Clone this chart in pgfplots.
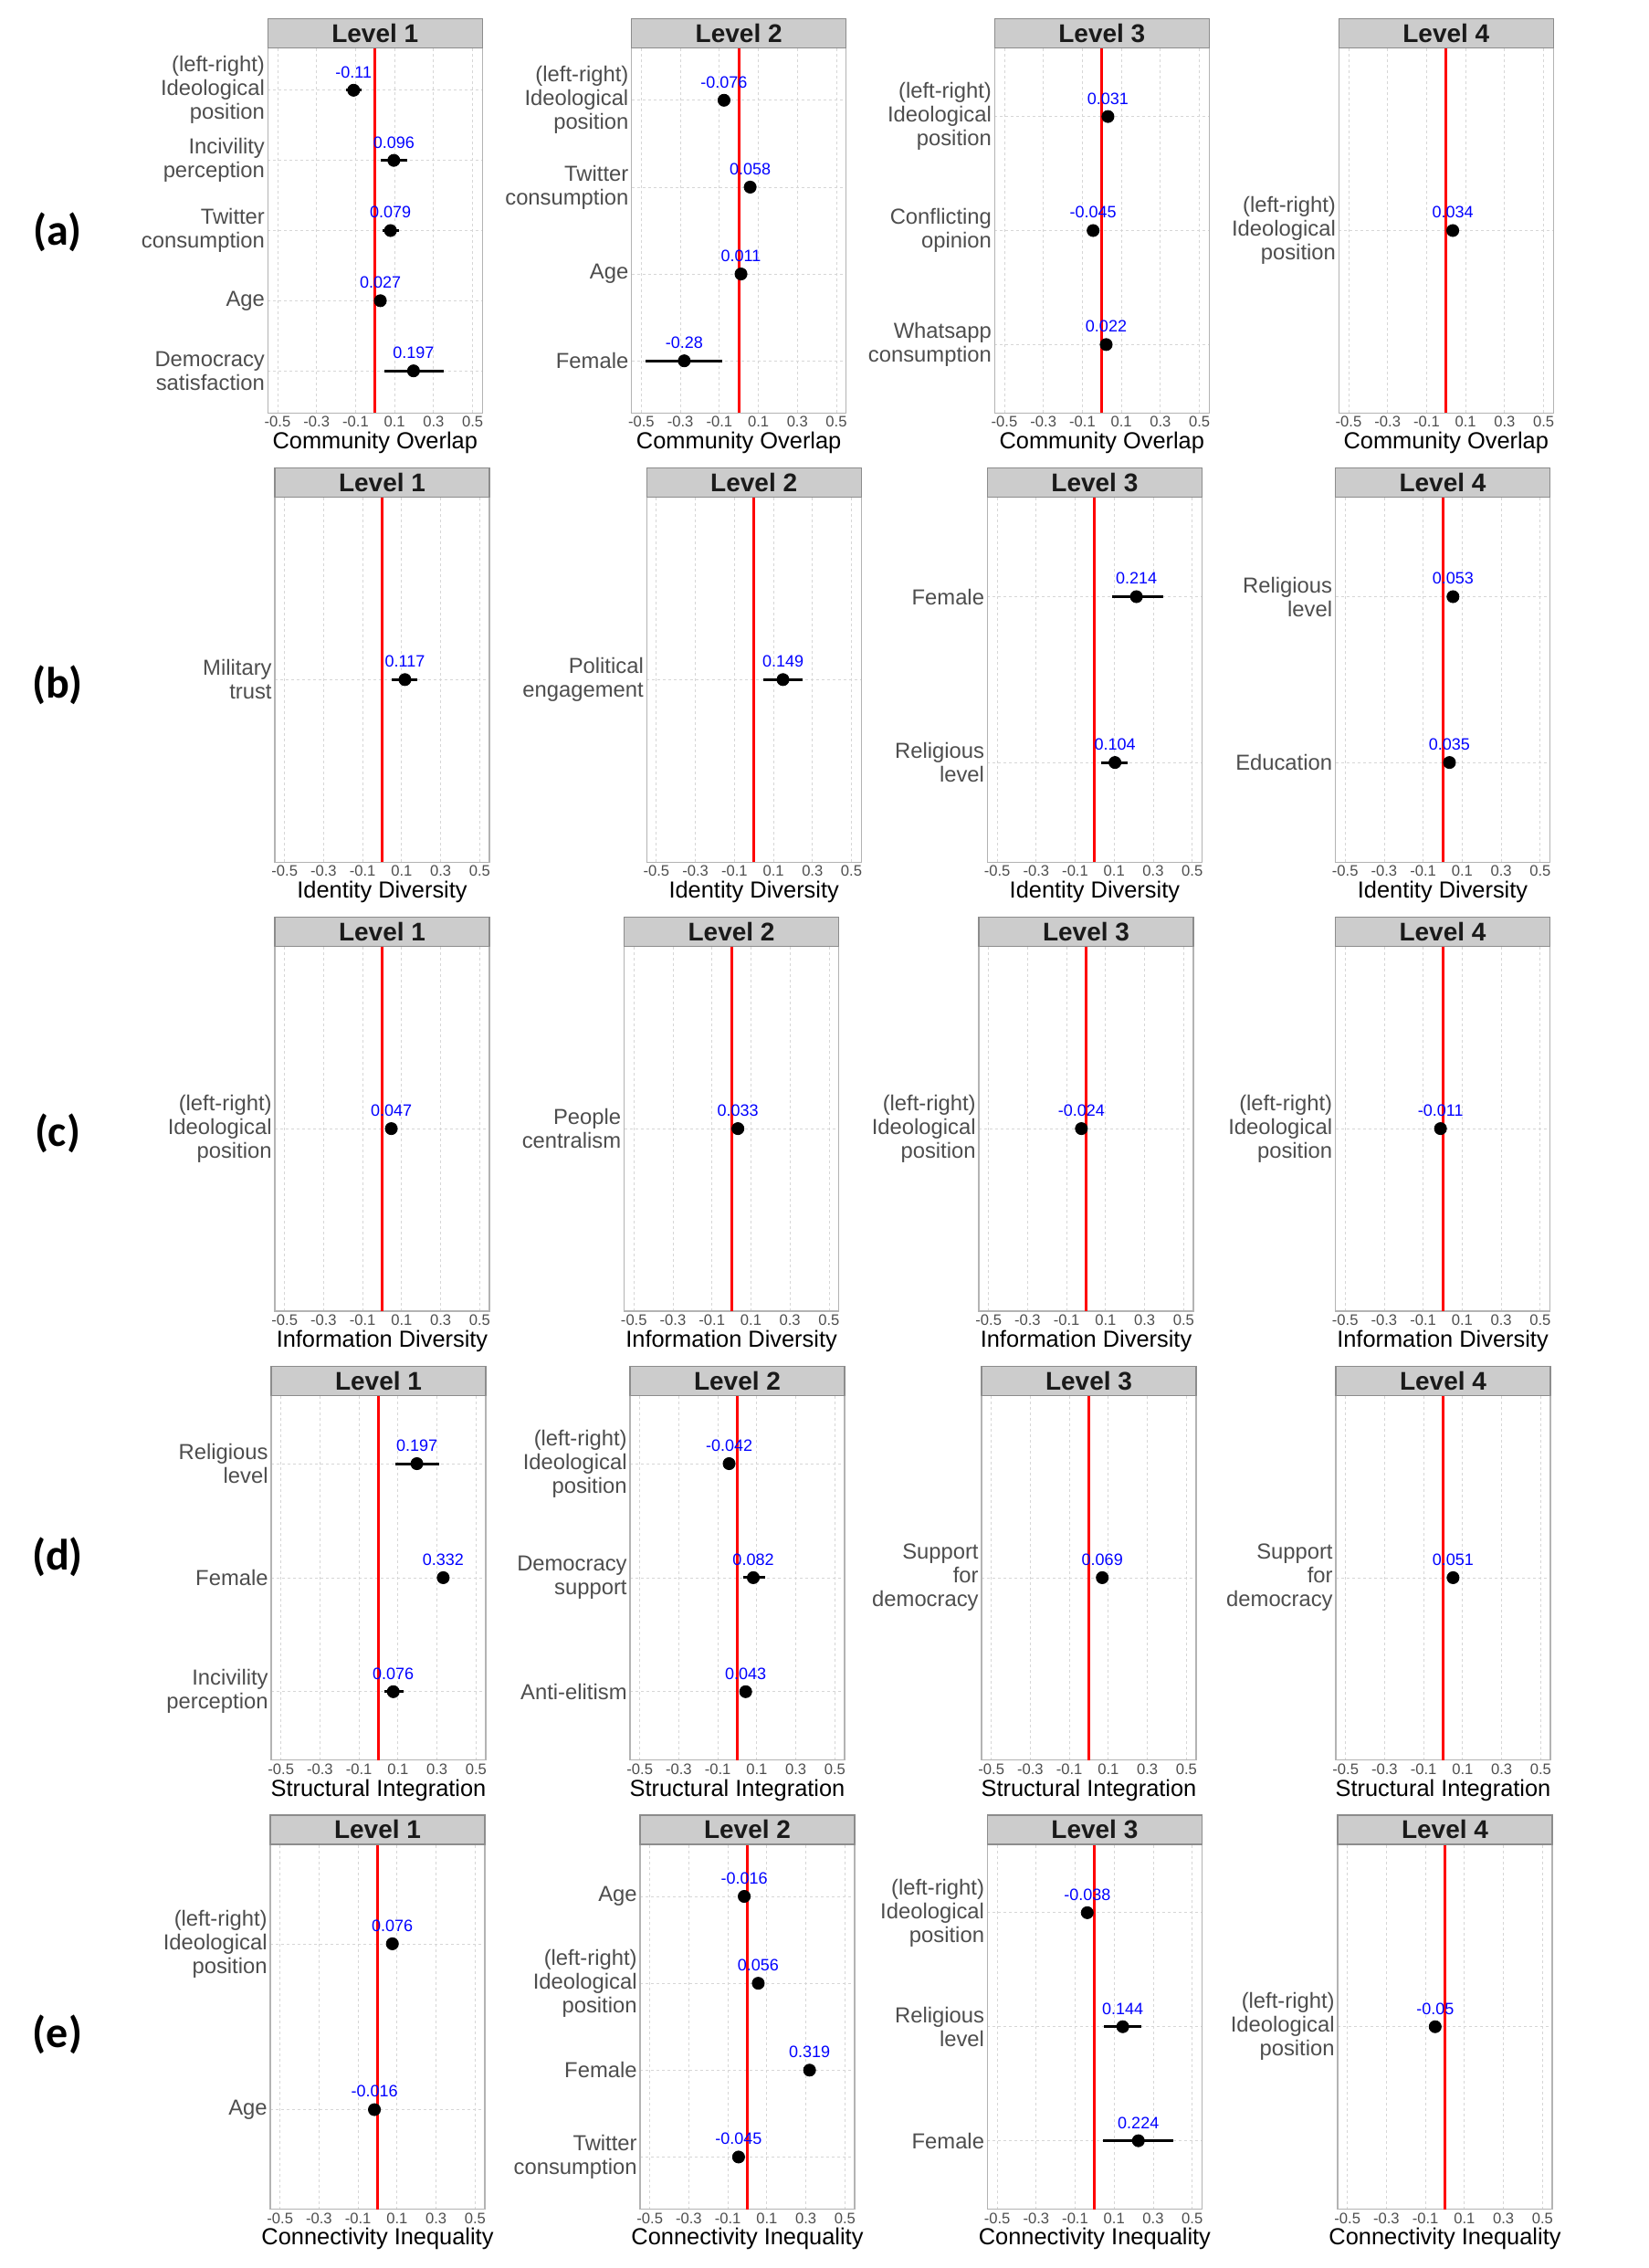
\documentclass[border=0pt]{standalone}
\usepackage{fontspec}
\setmainfont{Liberation Sans}
\newfontfamily\carlito{Carlito}
\usepackage{pgfplots}
\pgfplotsset{compat=1.18}
\definecolor{tickc}{HTML}{4D4D4D}
\definecolor{gridc}{HTML}{D6D6D6}
\definecolor{panelborder}{HTML}{B3B3B3}
\definecolor{stripfill}{HTML}{CCCCCC}
\definecolor{stripborder}{HTML}{8C8C8C}
\definecolor{striptext}{HTML}{1A1A1A}
\pgfplotsset{
 panel/.style={
  scale only axis, width=117.5pt, height=199.8pt, anchor=south west,
  xmin=-0.55, xmax=0.55, ymin=0.4,
  xtick={-0.5,-0.3,-0.1,0.1,0.3,0.5},
  xticklabels={-0.5,-0.3,-0.1,0.1,0.3,0.5},
  major tick length=0pt,
  xmajorgrids, ymajorgrids,
  grid style={dash pattern=on 1.5pt off 1.5pt, line width=0.4pt, draw=gridc},
  axis line style={draw=panelborder, line width=0.6pt},
  xticklabel style={font=\fontsize{8.3}{9}\selectfont, text=tickc, inner sep=0pt, yshift=-1.8pt},
  yticklabel style={font=\fontsize{11.9}{13}\selectfont, text=tickc, align=right, inner sep=0pt, xshift=-1.5pt},
  xlabel style={font=\fontsize{12.7}{14}\selectfont, text=black, at={(axis description cs:0.5,0)}, anchor=base, yshift=-19.7pt, inner sep=0pt},
 },
 zline/.style={red, line width=1.5pt},
 est/.style={only marks, mark=*, mark size=3.3pt, mark options={fill=black, draw=black}, black,
  point meta=explicit symbolic, nodes near coords={\pgfplotspointmeta},
  every node near coord/.append style={font=\fontsize{9}{10}\selectfont, text=blue, inner sep=0pt, yshift=6.5pt, anchor=south},
  error bars/.cd, x dir=both, x explicit, error mark=none, error bar style={line width=1.5pt, black}},
}
\newcommand{\strip}[2]{%
  \draw[fill=stripfill, draw=stripborder, line width=0.6pt] (#1.north west) rectangle ([yshift=16pt]#1.north east);
  \node[anchor=base, font=\fontsize{14}{16}\selectfont\bfseries, text=striptext, inner sep=0pt] at ([yshift=3pt]#1.north) {#2};}
\newcommand{\rowlab}[2]{\node[font=\carlito\bfseries\fontsize{24}{27}\selectfont, anchor=center] at (31.5pt,#1) {#2};}
\begin{document}
\begin{tikzpicture}
\useasboundingbox (0,0) rectangle (902.5pt,-1242pt);
% ===================== Row (a) =====================
\rowlab{-127pt}{(a)}
\begin{axis}[panel, name=a1, at={(146.65pt,-226.15pt)}, ymax=5.6, ytick={1,2,3,4,5},
 yticklabels={{Democracy\\satisfaction},Age,{Twitter\\consumption},{Incivility\\perception},{(left-right)\\Ideological\\position}},
 xlabel={Community Overlap}]
\addplot[zline] coordinates {(0,0.4) (0,5.6)};
\addplot[est] table[x=est,y=y,meta=lab,x error plus expr=\thisrow{hi}-\thisrow{est},x error minus expr=\thisrow{est}-\thisrow{lo}] {
y est lo hi lab
5 -0.11 -0.15 -0.07 -0.11
4 0.096 0.03 0.165 0.096
3 0.079 0.037 0.125 0.079
2 0.027 0.027 0.027 0.027
1 0.197 0.047 0.353 0.197
};
\end{axis}
\strip{a1}{Level 1}
\begin{axis}[panel, name=a2, at={(345.85pt,-226.15pt)}, ymax=4.6, ytick={1,2,3,4},
 yticklabels={Female,Age,{Twitter\\consumption},{(left-right)\\Ideological\\position}},
 xlabel={Community Overlap}]
\addplot[zline] coordinates {(0,0.4) (0,4.6)};
\addplot[est] table[x=est,y=y,meta=lab,x error plus expr=\thisrow{hi}-\thisrow{est},x error minus expr=\thisrow{est}-\thisrow{lo}] {
y est lo hi lab
4 -0.076 -0.076 -0.076 -0.076
3 0.058 0.058 0.058 0.058
2 0.011 0.011 0.011 0.011
1 -0.28 -0.477 -0.087 -0.28
};
\end{axis}
\strip{a2}{Level 2}
\begin{axis}[panel, name=a3, at={(544.65pt,-226.15pt)}, ymax=3.6, ytick={1,2,3},
 yticklabels={{Whatsapp\\consumption},{Conflicting\\opinion},{(left-right)\\Ideological\\position}},
 xlabel={Community Overlap}]
\addplot[zline] coordinates {(0,0.4) (0,3.6)};
\addplot[est] table[x=est,y=y,meta=lab,x error plus expr=\thisrow{hi}-\thisrow{est},x error minus expr=\thisrow{est}-\thisrow{lo}] {
y est lo hi lab
3 0.031 0.031 0.031 0.031
2 -0.045 -0.045 -0.045 -0.045
1 0.022 0.022 0.022 0.022
};
\end{axis}
\strip{a3}{Level 3}
\begin{axis}[panel, name=a4, at={(733.15pt,-226.15pt)}, ymax=1.6, ytick={1},
 yticklabels={{(left-right)\\Ideological\\position}},
 xlabel={Community Overlap}]
\addplot[zline] coordinates {(0,0.4) (0,1.6)};
\addplot[est] table[x=est,y=y,meta=lab,x error plus expr=\thisrow{hi}-\thisrow{est},x error minus expr=\thisrow{est}-\thisrow{lo}] {
y est lo hi lab
1 0.034 0.034 0.034 0.034
};
\end{axis}
\strip{a4}{Level 4}
% ===================== Row (b) =====================
\rowlab{-375pt}{(b)}
\begin{axis}[panel, name=b1, at={(150.5pt,-472.05pt)}, ymax=1.6, ytick={1},
 yticklabels={{Military\\trust}},
 xlabel={Identity Diversity}]
\addplot[zline] coordinates {(0,0.4) (0,1.6)};
\addplot[est] table[x=est,y=y,meta=lab,x error plus expr=\thisrow{hi}-\thisrow{est},x error minus expr=\thisrow{est}-\thisrow{lo}] {
y est lo hi lab
1 0.117 0.05 0.18 0.117
};
\end{axis}
\strip{b1}{Level 1}
\begin{axis}[panel, name=b2, at={(354.1pt,-472.05pt)}, ymax=1.6, ytick={1},
 yticklabels={{Political\\engagement}},
 xlabel={Identity Diversity}]
\addplot[zline] coordinates {(0,0.4) (0,1.6)};
\addplot[est] table[x=est,y=y,meta=lab,x error plus expr=\thisrow{hi}-\thisrow{est},x error minus expr=\thisrow{est}-\thisrow{lo}] {
y est lo hi lab
1 0.149 0.05 0.25 0.149
};
\end{axis}
\strip{b2}{Level 2}
\begin{axis}[panel, name=b3, at={(540.7pt,-472.05pt)}, ymax=2.6, ytick={1,2},
 yticklabels={{Religious\\level},Female},
 xlabel={Identity Diversity}]
\addplot[zline] coordinates {(0,0.4) (0,2.6)};
\addplot[est] table[x=est,y=y,meta=lab,x error plus expr=\thisrow{hi}-\thisrow{est},x error minus expr=\thisrow{est}-\thisrow{lo}] {
y est lo hi lab
2 0.214 0.09 0.35 0.214
1 0.104 0.035 0.17 0.104
};
\end{axis}
\strip{b3}{Level 3}
\begin{axis}[panel, name=b4, at={(731.25pt,-472.05pt)}, ymax=2.6, ytick={1,2},
 yticklabels={Education,{Religious\\level}},
 xlabel={Identity Diversity}]
\addplot[zline] coordinates {(0,0.4) (0,2.6)};
\addplot[est] table[x=est,y=y,meta=lab,x error plus expr=\thisrow{hi}-\thisrow{est},x error minus expr=\thisrow{est}-\thisrow{lo}] {
y est lo hi lab
2 0.053 0.053 0.053 0.053
1 0.035 0.035 0.035 0.035
};
\end{axis}
\strip{b4}{Level 4}
% ===================== Row (c) =====================
\rowlab{-620.5pt}{(c)}
\begin{axis}[panel, name=c1, at={(150.5pt,-717.95pt)}, ymax=1.6, ytick={1},
 yticklabels={{(left-right)\\Ideological\\position}},
 xlabel={Information Diversity}]
\addplot[zline] coordinates {(0,0.4) (0,1.6)};
\addplot[est] table[x=est,y=y,meta=lab,x error plus expr=\thisrow{hi}-\thisrow{est},x error minus expr=\thisrow{est}-\thisrow{lo}] {
y est lo hi lab
1 0.047 0.047 0.047 0.047
};
\end{axis}
\strip{c1}{Level 1}
\begin{axis}[panel, name=c2, at={(341.8pt,-717.95pt)}, ymax=1.6, ytick={1},
 yticklabels={{People\\centralism}},
 xlabel={Information Diversity}]
\addplot[zline] coordinates {(0,0.4) (0,1.6)};
\addplot[est] table[x=est,y=y,meta=lab,x error plus expr=\thisrow{hi}-\thisrow{est},x error minus expr=\thisrow{est}-\thisrow{lo}] {
y est lo hi lab
1 0.033 0.008 0.058 0.033
};
\end{axis}
\strip{c2}{Level 2}
\begin{axis}[panel, name=c3, at={(536pt,-717.95pt)}, ymax=1.6, ytick={1},
 yticklabels={{(left-right)\\Ideological\\position}},
 xlabel={Information Diversity}]
\addplot[zline] coordinates {(0,0.4) (0,1.6)};
\addplot[est] table[x=est,y=y,meta=lab,x error plus expr=\thisrow{hi}-\thisrow{est},x error minus expr=\thisrow{est}-\thisrow{lo}] {
y est lo hi lab
1 -0.024 -0.024 -0.024 -0.024
};
\end{axis}
\strip{c3}{Level 3}
\begin{axis}[panel, name=c4, at={(731.25pt,-717.95pt)}, ymax=1.6, ytick={1},
 yticklabels={{(left-right)\\Ideological\\position}},
 xlabel={Information Diversity}]
\addplot[zline] coordinates {(0,0.4) (0,1.6)};
\addplot[est] table[x=est,y=y,meta=lab,x error plus expr=\thisrow{hi}-\thisrow{est},x error minus expr=\thisrow{est}-\thisrow{lo}] {
y est lo hi lab
1 -0.011 -0.011 -0.011 -0.011
};
\end{axis}
\strip{c4}{Level 4}
% ===================== Row (d) =====================
\rowlab{-852.5pt}{(d)}
\begin{axis}[panel, name=d1, at={(148.5pt,-963.85pt)}, ymax=3.6, ytick={1,2,3},
 yticklabels={{Incivility\\perception},Female,{Religious\\level}},
 xlabel={Structural Integration}]
\addplot[zline] coordinates {(0,0.4) (0,3.6)};
\addplot[est] table[x=est,y=y,meta=lab,x error plus expr=\thisrow{hi}-\thisrow{est},x error minus expr=\thisrow{est}-\thisrow{lo}] {
y est lo hi lab
3 0.197 0.088 0.313 0.197
2 0.332 0.332 0.332 0.332
1 0.076 0.029 0.129 0.076
};
\end{axis}
\strip{d1}{Level 1}
\begin{axis}[panel, name=d2, at={(345pt,-963.85pt)}, ymax=3.6, ytick={1,2,3},
 yticklabels={Anti-elitism,{Democracy\\support},{(left-right)\\Ideological\\position}},
 xlabel={Structural Integration}]
\addplot[zline] coordinates {(0,0.4) (0,3.6)};
\addplot[est] table[x=est,y=y,meta=lab,x error plus expr=\thisrow{hi}-\thisrow{est},x error minus expr=\thisrow{est}-\thisrow{lo}] {
y est lo hi lab
3 -0.042 -0.042 -0.042 -0.042
2 0.082 0.029 0.141 0.082
1 0.043 0.043 0.043 0.043
};
\end{axis}
\strip{d2}{Level 2}
\begin{axis}[panel, name=d3, at={(537.5pt,-963.85pt)}, ymax=1.6, ytick={1},
 yticklabels={{Support\\for\\democracy}},
 xlabel={Structural Integration}]
\addplot[zline] coordinates {(0,0.4) (0,1.6)};
\addplot[est] table[x=est,y=y,meta=lab,x error plus expr=\thisrow{hi}-\thisrow{est},x error minus expr=\thisrow{est}-\thisrow{lo}] {
y est lo hi lab
1 0.069 0.069 0.069 0.069
};
\end{axis}
\strip{d3}{Level 3}
\begin{axis}[panel, name=d4, at={(731.5pt,-963.85pt)}, ymax=1.6, ytick={1},
 yticklabels={{Support\\for\\democracy}},
 xlabel={Structural Integration}]
\addplot[zline] coordinates {(0,0.4) (0,1.6)};
\addplot[est] table[x=est,y=y,meta=lab,x error plus expr=\thisrow{hi}-\thisrow{est},x error minus expr=\thisrow{est}-\thisrow{lo}] {
y est lo hi lab
1 0.051 0.051 0.051 0.051
};
\end{axis}
\strip{d4}{Level 4}
% ===================== Row (e) =====================
\rowlab{-1114pt}{(e)}
\begin{axis}[panel, name=e1, at={(148pt,-1209.75pt)}, ymax=2.6, ytick={1,2},
 yticklabels={Age,{(left-right)\\Ideological\\position}},
 xlabel={Connectivity Inequality}]
\addplot[zline] coordinates {(0,0.4) (0,2.6)};
\addplot[est] table[x=est,y=y,meta=lab,x error plus expr=\thisrow{hi}-\thisrow{est},x error minus expr=\thisrow{est}-\thisrow{lo}] {
y est lo hi lab
2 0.076 0.076 0.076 0.076
1 -0.016 -0.016 -0.016 -0.016
};
\end{axis}
\strip{e1}{Level 1}
\begin{axis}[panel, name=e2, at={(350.5pt,-1209.75pt)}, ymax=4.6, ytick={1,2,3,4},
 yticklabels={{Twitter\\consumption},Female,{(left-right)\\Ideological\\position},Age},
 xlabel={Connectivity Inequality}]
\addplot[zline] coordinates {(0,0.4) (0,4.6)};
\addplot[est] table[x=est,y=y,meta=lab,x error plus expr=\thisrow{hi}-\thisrow{est},x error minus expr=\thisrow{est}-\thisrow{lo}] {
y est lo hi lab
4 -0.016 -0.016 -0.016 -0.016
3 0.056 0.056 0.056 0.056
2 0.319 0.319 0.319 0.319
1 -0.045 -0.045 -0.045 -0.045
};
\end{axis}
\strip{e2}{Level 2}
\begin{axis}[panel, name=e3, at={(540.7pt,-1209.75pt)}, ymax=3.6, ytick={1,2,3},
 yticklabels={Female,{Religious\\level},{(left-right)\\Ideological\\position}},
 xlabel={Connectivity Inequality}]
\addplot[zline] coordinates {(0,0.4) (0,3.6)};
\addplot[est] table[x=est,y=y,meta=lab,x error plus expr=\thisrow{hi}-\thisrow{est},x error minus expr=\thisrow{est}-\thisrow{lo}] {
y est lo hi lab
3 -0.038 -0.038 -0.038 -0.038
2 0.144 0.047 0.241 0.144
1 0.224 0.042 0.402 0.224
};
\end{axis}
\strip{e3}{Level 3}
\begin{axis}[panel, name=e4, at={(732.5pt,-1209.75pt)}, ymax=1.6, ytick={1},
 yticklabels={{(left-right)\\Ideological\\position}},
 xlabel={Connectivity Inequality}]
\addplot[zline] coordinates {(0,0.4) (0,1.6)};
\addplot[est] table[x=est,y=y,meta=lab,x error plus expr=\thisrow{hi}-\thisrow{est},x error minus expr=\thisrow{est}-\thisrow{lo}] {
y est lo hi lab
1 -0.05 -0.05 -0.05 -0.05
};
\end{axis}
\strip{e4}{Level 4}
\end{tikzpicture}
\end{document}
